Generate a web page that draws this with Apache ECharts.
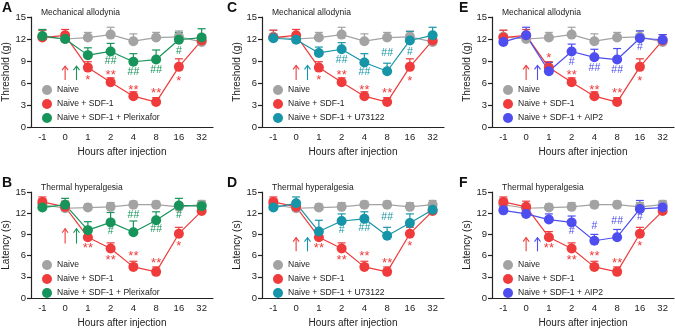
<!DOCTYPE html>
<html>
<head>
<meta charset="utf-8">
<script src="https://cdn.jsdelivr.net/npm/echarts@6/dist/echarts.min.js"></script>
<style>
html, body { margin: 0; padding: 0; background: #fff; }
#main { width: 675px; height: 329px; }
</style>
</head>
<body>
<div id="main"></div>
<script>
var chart = echarts.init(document.getElementById('main'));
var FONT = 'Liberation Sans, Arial, sans-serif';

// x categories
var hours = ['-1', '0', '1', '2', '4', '8', '16', '32'];
var yTicks = [0, 3, 6, 9, 12, 15];

// mechanical allodynia, threshold (g)
var mechNaive = [12.3, 12.0, 12.2, 12.6, 11.7, 12.2, 12.3, 11.6];
var mechNaiveErr = [0.9, 0.8, 0.7, 1.0, 1.0, 0.7, 0.8, 0.6];
var mechSdf = [12.2, 12.5, 8.1, 6.1, 4.2, 3.4, 8.2, 11.8];
var mechSdfErr = [1.0, 0.8, 0.8, 0.6, 0.6, 0.6, 1.1, 0.8];
var mechPler = [12.4, 12.0, 9.8, 10.3, 8.9, 9.2, 11.9, 12.2];
var mechPlerErr = [0.9, 0.8, 1.0, 1.1, 1.1, 1.3, 1.0, 1.2];
var mechU73 = [12.1, 11.9, 10.1, 10.6, 8.8, 7.6, 11.8, 12.5];
var mechU73Err = [0.6, 0.6, 0.8, 0.9, 1.2, 1.1, 1.2, 1.1];
var mechAip = [11.6, 12.5, 7.6, 10.3, 9.5, 9.2, 12.1, 11.9];
var mechAipErr = [0.8, 1.1, 1.2, 1.0, 1.1, 1.5, 1.0, 0.7];

// thermal hyperalgesia, latency (s)
var thermNaive = [13.2, 12.7, 12.8, 12.9, 13.2, 13.2, 12.9, 13.2];
var thermNaiveErr = [0.5, 0.5, 0.5, 0.6, 0.5, 0.5, 0.6, 0.6];
var thermSdf = [13.6, 12.9, 8.6, 7.0, 4.4, 3.7, 9.1, 12.3];
var thermSdfErr = [0.7, 0.8, 0.8, 0.8, 0.8, 0.7, 0.9, 0.6];
var thermPler = [12.8, 13.2, 9.6, 10.7, 9.3, 11.0, 13.1, 13.0];
var thermPlerErr = [0.6, 0.9, 1.2, 1.4, 1.6, 1.2, 1.0, 0.6];
var thermU73 = [12.8, 13.4, 9.4, 10.9, 11.2, 8.8, 10.6, 12.5];
var thermU73Err = [0.6, 0.9, 1.6, 1.0, 1.0, 1.2, 1.3, 0.8];
var thermAip = [12.4, 11.9, 11.1, 10.7, 8.1, 8.6, 12.6, 12.8];
var thermAipErr = [0.5, 0.6, 0.8, 0.9, 0.9, 1.1, 1.2, 0.8];

// significance marks: [category index, y, text]
var mechSdfMarks = [[2, 6.8, '*'], [3, 7.4, '**'], [4, 5.4, '**'], [5, 5.0, '**'], [6, 6.6, '*']];
var mechSdfMarksE = [[2, 9.8, '*'], [3, 7.4, '**'], [4, 5.4, '**'], [5, 5.0, '**'], [6, 6.6, '*']];
var mechPlerMarks = [[3, 9.0, '##'], [4, 7.5, '##'], [5, 7.7, '##'], [6, 10.4, '#']];
var mechU73Marks = [[3, 9.15, '##'], [4, 7.5, '##'], [5, 10.1, '##'], [6, 10.25, '#']];
var mechAipMarks = [[3, 8.8, '#'], [4, 8.0, '##'], [5, 7.75, '##'], [6, 10.85, '#']];
var thermSdfMarks = [[2, 7.4, '**'], [3, 5.75, '**'], [4, 6.25, '**'], [5, 5.3, '**'], [6, 7.7, '*']];
var thermPlerMarks = [[3, 9.5, '#'], [4, 11.8, '##'], [5, 9.7, '##'], [6, 11.7, '#']];
var thermU73Marks = [[3, 9.6, '#'], [4, 9.9, '##'], [5, 11.4, '##']];
var thermAipMarks = [[3, 9.4, '#'], [4, 10.2, '#'], [5, 10.95, '##'], [6, 11.4, '#']];

// injection arrows: [bottom, top]
var arrowsA = [6.4, 8.3];
var arrowsB = [7.7, 9.8];
var arrowsCE = [6.4, 8.4];
var arrowsDF = [6.6, 8.55];

var gray = '#a3a3a3', red = '#ef3b3b', green = '#17945a', teal = '#1795a8', blue = '#4d4df0';

var panels = [
    {letter: 'A', title: 'Mechanical allodynia', yName: 'Threshold (g)', col: 0, row: 0,
     naive: mechNaive, naiveErr: mechNaiveErr, sdf: mechSdf, sdfErr: mechSdfErr, sdfMarks: mechSdfMarks,
     drug: mechPler, drugErr: mechPlerErr, drugMarks: mechPlerMarks, drugName: 'Naive + SDF-1 + Plerixafor', drugColor: green, arrows: arrowsA},
    {letter: 'B', title: 'Thermal hyperalgesia', yName: 'Latency (s)', col: 0, row: 1,
     naive: thermNaive, naiveErr: thermNaiveErr, sdf: thermSdf, sdfErr: thermSdfErr, sdfMarks: thermSdfMarks,
     drug: thermPler, drugErr: thermPlerErr, drugMarks: thermPlerMarks, drugName: 'Naive + SDF-1 + Plerixafor', drugColor: green, arrows: arrowsB},
    {letter: 'C', title: 'Mechanical allodynia', yName: 'Threshold (g)', col: 1, row: 0,
     naive: mechNaive, naiveErr: mechNaiveErr, sdf: mechSdf, sdfErr: mechSdfErr, sdfMarks: mechSdfMarks,
     drug: mechU73, drugErr: mechU73Err, drugMarks: mechU73Marks, drugName: 'Naive + SDF-1 + U73122', drugColor: teal, arrows: arrowsCE},
    {letter: 'D', title: 'Thermal hyperalgesia', yName: 'Latency (s)', col: 1, row: 1,
     naive: thermNaive, naiveErr: thermNaiveErr, sdf: thermSdf, sdfErr: thermSdfErr, sdfMarks: thermSdfMarks,
     drug: thermU73, drugErr: thermU73Err, drugMarks: thermU73Marks, drugName: 'Naive + SDF-1 + U73122', drugColor: teal, arrows: arrowsDF},
    {letter: 'E', title: 'Mechanical allodynia', yName: 'Threshold (g)', col: 2, row: 0,
     naive: mechNaive, naiveErr: mechNaiveErr, sdf: mechSdf, sdfErr: mechSdfErr, sdfMarks: mechSdfMarksE,
     drug: mechAip, drugErr: mechAipErr, drugMarks: mechAipMarks, drugName: 'Naive + SDF-1 + AIP2', drugColor: blue, arrows: arrowsCE},
    {letter: 'F', title: 'Thermal hyperalgesia', yName: 'Latency (s)', col: 2, row: 1,
     naive: thermNaive, naiveErr: thermNaiveErr, sdf: thermSdf, sdfErr: thermSdfErr, sdfMarks: thermSdfMarks,
     drug: thermAip, drugErr: thermAipErr, drugMarks: thermAipMarks, drugName: 'Naive + SDF-1 + AIP2', drugColor: blue, arrows: arrowsDF}
];

var colLeft = [31, 262, 492];
var letterLeft = [2, 227, 459];
var rowTop = [17, 192];
var rowHeight = [110, 109];

function errRender(color) {
    return function (params, api) {
        var x = api.value(0);
        var p = api.coord([x, api.value(1)]);
        var q = api.coord([x, api.value(2)]);
        return {type: 'group', children: [
            {type: 'line', shape: {x1: p[0], y1: p[1], x2: q[0], y2: q[1]}, style: {stroke: color, lineWidth: 1.2}},
            {type: 'line', shape: {x1: q[0] - 4, y1: q[1], x2: q[0] + 4, y2: q[1]}, style: {stroke: color, lineWidth: 1.2}}
        ]};
    };
}

function markRender(marks, color) {
    return function (params, api) {
        var m = marks[params.dataIndex];
        var p = api.coord([m[0], m[1]]);
        var star = m[2].charAt(0) === '*';
        return {type: 'text', x: p[0], y: p[1] + (star ? 3 : 0), style: {
            text: m[2], fill: color, font: (star ? '13px ' : '10.5px ') + FONT,
            align: 'center', verticalAlign: 'middle'}};
    };
}

// arrows sit at hour 0 (index 1) and halfway to hour 1
function arrowRender(arrow, colors) {
    return function (params, api) {
        var i = params.dataIndex;
        var a = api.coord([1, arrow[0]]);
        var b = api.coord([2, arrow[1]]);
        var x = a[0] + i * 0.5 * (b[0] - a[0]);
        return {type: 'group', children: [
            {type: 'line', shape: {x1: x, y1: a[1], x2: x, y2: b[1]}, style: {stroke: colors[i], lineWidth: 1.1}},
            {type: 'polyline', shape: {points: [[x - 3, b[1] + 4], [x, b[1]], [x + 3, b[1] + 4]]}, style: {stroke: colors[i], fill: null, lineWidth: 1.1}}
        ]};
    };
}

var option = {
    animation: false,
    backgroundColor: '#fff',
    title: [], grid: [], xAxis: [], yAxis: [], legend: [], series: []
};

panels.forEach(function (pn, k) {
    var gl = colLeft[pn.col], gt = rowTop[pn.row];
    option.title.push({text: pn.letter, left: letterLeft[pn.col], top: gt - 16, padding: 0,
        textStyle: {fontSize: 14, fontWeight: 'bold', color: '#111', fontFamily: FONT}});
    option.title.push({text: pn.title, left: gl + 10, top: gt - 9, padding: 0,
        textStyle: {fontSize: 8.5, fontWeight: 'normal', color: '#222', fontFamily: FONT}});
    option.grid.push({left: gl, top: gt, width: 182, height: rowHeight[pn.row]});
    option.xAxis.push({
        type: 'category', gridIndex: k, data: hours,
        name: 'Hours after injection', nameLocation: 'middle', nameGap: 20,
        nameTextStyle: {fontSize: 10, color: '#222', fontFamily: FONT},
        axisLine: {lineStyle: {color: '#222', width: 1.2}},
        axisTick: {alignWithLabel: true, length: 4, lineStyle: {color: '#222', width: 1.2}},
        axisLabel: {fontSize: 9.5, color: '#222', margin: 5, fontFamily: FONT, interval: 0}
    });
    option.yAxis.push({
        type: 'value', gridIndex: k, min: yTicks[0], max: yTicks[yTicks.length - 1], interval: 3,
        name: pn.yName, nameLocation: 'middle', nameGap: 18,
        nameTextStyle: {fontSize: 10, color: '#222', fontFamily: FONT},
        axisLine: {show: true, lineStyle: {color: '#222', width: 1.2}},
        axisTick: {show: true, length: 4, lineStyle: {color: '#222', width: 1.2}},
        axisLabel: {fontSize: 9.5, color: '#222', margin: 5, fontFamily: FONT},
        splitLine: {show: false}
    });
    option.legend.push({
        orient: 'vertical', left: gl + 11, top: gt + 68, padding: 0, itemGap: 4,
        itemWidth: 10, itemHeight: 10, icon: 'circle', selectedMode: false,
        textStyle: {fontSize: 8.6, color: '#222', fontFamily: FONT},
        data: ['Naive', 'Naive + SDF-1', pn.drugName]
    });

    var groups = [
        {name: 'Naive', vals: pn.naive, err: pn.naiveErr, color: gray, marks: null},
        {name: 'Naive + SDF-1', vals: pn.sdf, err: pn.sdfErr, color: red, marks: pn.sdfMarks},
        {name: pn.drugName, vals: pn.drug, err: pn.drugErr, color: pn.drugColor, marks: pn.drugMarks}
    ];
    groups.forEach(function (g) {
        option.series.push({
            type: 'custom', xAxisIndex: k, yAxisIndex: k, z: 1, silent: true,
            renderItem: errRender(g.color),
            data: g.vals.map(function (v, i) { return [i, v, v + g.err[i]]; })
        });
    });
    groups.forEach(function (g) {
        option.series.push({
            type: 'line', name: g.name, xAxisIndex: k, yAxisIndex: k, z: 2,
            data: g.vals, symbol: 'circle', symbolSize: 10,
            itemStyle: {color: g.color}, lineStyle: {color: g.color, width: 1.2}
        });
    });
    groups.forEach(function (g) {
        if (!g.marks) return;
        option.series.push({
            type: 'custom', xAxisIndex: k, yAxisIndex: k, z: 3, silent: true,
            renderItem: markRender(g.marks, g.color),
            data: g.marks.map(function (m) { return [m[0], m[1]]; })
        });
    });
    option.series.push({
        type: 'custom', xAxisIndex: k, yAxisIndex: k, z: 3, silent: true,
        renderItem: arrowRender(pn.arrows, [red, pn.drugColor]),
        data: [[1, pn.arrows[0]], [1, pn.arrows[1]]]
    });
});

chart.setOption(option);
</script>
</body>
</html>
